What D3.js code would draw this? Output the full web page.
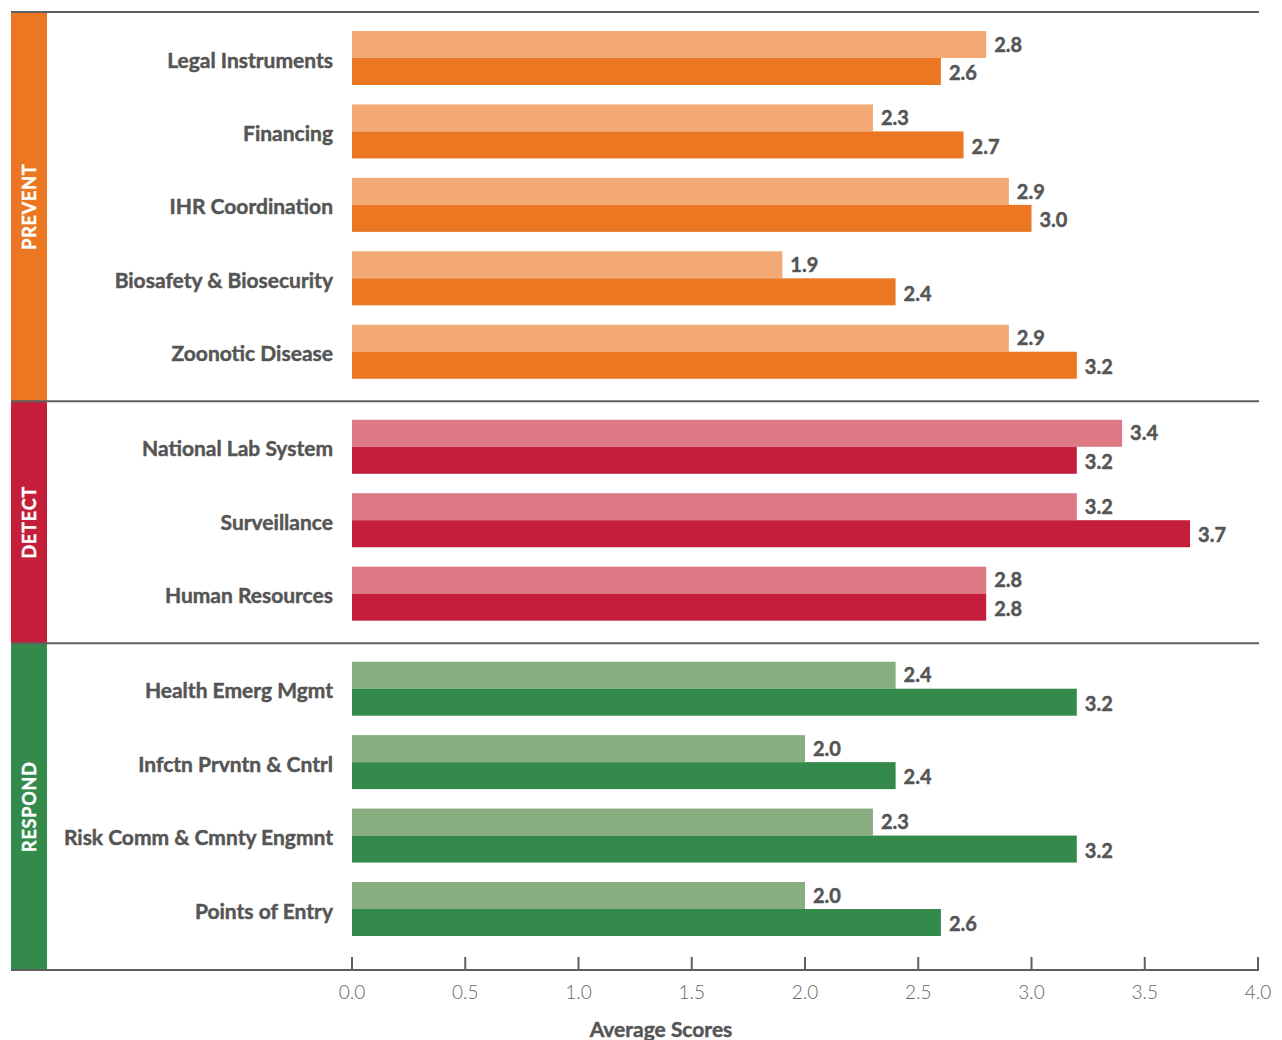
<!DOCTYPE html>
<html>
<head>
<meta charset="utf-8">
<script src="https://cdn.jsdelivr.net/npm/d3@7"></script>
<style>
  body { margin: 0; background: #fff; }
  svg { display: block; font-family: "Lato", "Open Sans", sans-serif; }
  .heavy { stroke: #555; stroke-width: 0.45px; }
</style>
</head>
<body>
<div id="chart"></div>
<script>
const width = 1282;
const height = 1040;

// data
const groups = ["PREVENT", "DETECT", "RESPOND"];
const categories = [
  "Legal Instruments", "Financing", "IHR Coordination", "Biosafety & Biosecurity", "Zoonotic Disease",
  "National Lab System", "Surveillance", "Human Resources",
  "Health Emerg Mgmt", "Infctn Prvntn & Cntrl", "Risk Comm & Cmnty Engmnt", "Points of Entry"
];
const categoryGroup = [0, 0, 0, 0, 0, 1, 1, 1, 2, 2, 2, 2];
const lightValues = [2.8, 2.3, 2.9, 1.9, 2.9, 3.4, 3.2, 2.8, 2.4, 2.0, 2.3, 2.0];
const darkValues = [2.6, 2.7, 3.0, 2.4, 3.2, 3.2, 3.7, 2.8, 3.2, 2.4, 3.2, 2.6];
const xTicks = [0, 0.5, 1.0, 1.5, 2.0, 2.5, 3.0, 3.5, 4.0];

const groupColors = ["#EB7723", "#C41E3A", "#338A4B"];
const groupLight = ["#F2A974", "#DC7985", "#88AD80"];

const left = 11, plotLeft = 352, plotRight = 1258;
const groupGap = 0.294;

const xScale = d3.scaleLinear().domain([0, 4]).range([plotLeft, plotRight]);

// row position in "units": index plus a gap for every group boundary passed
const rowUnit = (i) => i + categoryGroup[i] * groupGap;
const yScale = d3.scaleLinear()
  .domain([0, rowUnit(categories.length - 1)])
  .range([60, 911]);

const topY = yScale(0) - 48;
const bottomY = yScale(rowUnit(categories.length - 1)) + 59;

// group extents
const groupBounds = groups.map((g, gi) => {
  const idx = categoryGroup.map((c, i) => c === gi ? i : -1).filter(i => i >= 0);
  const first = idx[0], last = idx[idx.length - 1];
  const y0 = gi === 0 ? topY : (yScale(rowUnit(first)) + yScale(rowUnit(first - 1))) / 2;
  const y1 = gi === groups.length - 1 ? bottomY : (yScale(rowUnit(last)) + yScale(rowUnit(last + 1))) / 2;
  return { name: g, y0, y1 };
});

const svg = d3.select("#chart").append("svg")
  .attr("width", width)
  .attr("height", height);

// group color strips
svg.append("g").selectAll("rect")
  .data(groupBounds)
  .join("rect")
  .attr("x", left)
  .attr("y", d => d.y0)
  .attr("width", 36)
  .attr("height", d => d.y1 - d.y0)
  .attr("fill", (d, i) => groupColors[i]);

svg.append("g").selectAll("text")
  .data(groupBounds)
  .join("text")
  .attr("transform", d => `translate(${left + 18 + 6.5},${(d.y0 + d.y1) / 2}) rotate(-90)`)
  .attr("text-anchor", "middle")
  .attr("fill", "#fff")
  .attr("stroke", "#fff")
  .attr("stroke-width", 0.4)
  .attr("font-weight", 700)
  .attr("font-size", 18)
  .attr("letter-spacing", 0.8)
  .text(d => d.name);

// bars
const barH = 27;
const rows = categories.map((c, i) => ({
  name: c, light: lightValues[i], dark: darkValues[i], g: categoryGroup[i], cy: yScale(rowUnit(i))
}));

const barG = svg.append("g");
barG.selectAll("rect.light")
  .data(rows)
  .join("rect")
  .attr("class", "light")
  .attr("x", xScale(0))
  .attr("y", d => d.cy - 29)
  .attr("width", d => xScale(d.light) - xScale(0))
  .attr("height", barH)
  .attr("fill", d => groupLight[d.g]);

barG.selectAll("rect.dark")
  .data(rows)
  .join("rect")
  .attr("class", "dark")
  .attr("x", xScale(0))
  .attr("y", d => d.cy - 2)
  .attr("width", d => xScale(d.dark) - xScale(0))
  .attr("height", barH)
  .attr("fill", d => groupColors[d.g]);

// value labels
barG.selectAll("text.lv")
  .data(rows)
  .join("text")
  .attr("class", "lv heavy")
  .attr("x", d => xScale(d.light) + 8)
  .attr("y", d => d.cy - 15.5)
  .attr("dy", "0.36em")
  .attr("fill", "#555")
  .attr("font-weight", 700)
  .attr("font-size", 20)
  .text(d => d.light.toFixed(1));

barG.selectAll("text.dv")
  .data(rows)
  .join("text")
  .attr("class", "dv heavy")
  .attr("x", d => xScale(d.dark) + 8)
  .attr("y", d => d.cy + 13)
  .attr("dy", "0.36em")
  .attr("fill", "#555")
  .attr("font-weight", 700)
  .attr("font-size", 20)
  .text(d => d.dark.toFixed(1));

// category labels
svg.append("g").selectAll("text")
  .data(rows)
  .join("text")
  .attr("class", "heavy")
  .attr("x", 333)
  .attr("y", d => d.cy)
  .attr("dy", "0.36em")
  .attr("text-anchor", "end")
  .attr("fill", "#555")
  .attr("font-weight", 700)
  .attr("font-size", 21)
  .text(d => d.name);

// separator lines
const sepYs = [topY, groupBounds[1].y0, groupBounds[2].y0];
svg.append("g").selectAll("line")
  .data(sepYs)
  .join("line")
  .attr("x1", left)
  .attr("x2", plotRight + 1)
  .attr("y1", d => d)
  .attr("y2", d => d)
  .attr("stroke", "#5f5f5f")
  .attr("stroke-width", 2);

// x axis
const axisG = svg.append("g")
  .attr("transform", `translate(0,${bottomY})`);
axisG.append("line")
  .attr("x1", left)
  .attr("x2", plotRight + 1)
  .attr("stroke", "#5f5f5f")
  .attr("stroke-width", 2);
axisG.selectAll("line.tick")
  .data(xTicks)
  .join("line")
  .attr("class", "tick")
  .attr("x1", d => xScale(d))
  .attr("x2", d => xScale(d))
  .attr("y1", 0)
  .attr("y2", -13)
  .attr("stroke", "#5f5f5f")
  .attr("stroke-width", 2);
axisG.selectAll("text")
  .data(xTicks)
  .join("text")
  .attr("x", d => xScale(d))
  .attr("y", 22)
  .attr("dy", "0.36em")
  .attr("text-anchor", "middle")
  .attr("fill", "#666")
  .attr("font-weight", 300)
  .attr("font-size", 19)
  .text(d => d3.format(".1f")(d));

svg.append("text")
  .attr("class", "heavy")
  .attr("x", 661)
  .attr("y", 1029)
  .attr("dy", "0.36em")
  .attr("text-anchor", "middle")
  .attr("fill", "#555")
  .attr("font-weight", 700)
  .attr("font-size", 21)
  .text("Average Scores");
</script>
</body>
</html>
